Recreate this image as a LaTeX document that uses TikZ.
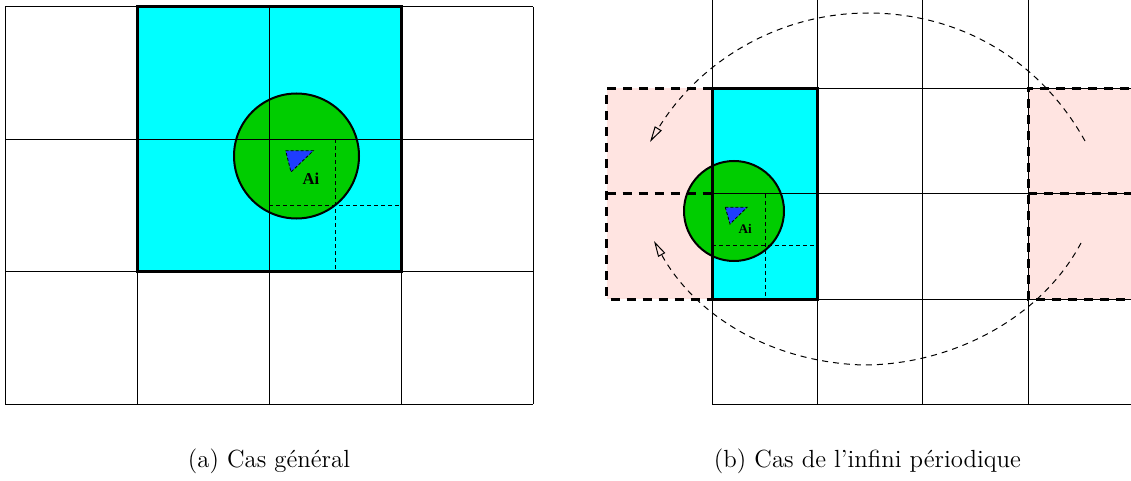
\documentclass[tikz,border=0pt]{standalone}
\usepackage{fontspec}
\newfontfamily\timesfont{Liberation Serif}
\usetikzlibrary{arrows.meta}
\definecolor{cellcyan}{RGB}{0,255,255}
\definecolor{ballgreen}{RGB}{0,205,0}
\definecolor{triblue}{RGB}{30,60,255}
\definecolor{ghostpink}{RGB}{255,228,225}
\tikzset{
  gridline/.style={line width=0.5pt, black},
  boldbox/.style={line width=1.5pt, black},
  ghostbox/.style={line width=1.5pt, black, dash pattern=on 4.5pt off 3.5pt},
  ball/.style={circle, draw=black, line width=1pt, fill=ballgreen, inner sep=0pt},
  halfdash/.style={line width=0.5pt, black, dash pattern=on 2pt off 1.5pt},
  tri/.style={fill=triblue, draw=black, line width=0.4pt, dash pattern=on 1.5pt off 1pt},
  wrap/.style={line width=0.5pt, black, dash pattern=on 3pt off 2.5pt,
     -{Triangle[open, length=8pt, width=4pt]}},
  bigAi/.style={font=\timesfont\bfseries\fontsize{8.3}{10}\selectfont, inner sep=0pt},
  smallAi/.style={font=\timesfont\bfseries\fontsize{6.6}{8}\selectfont, inner sep=0pt},
  caption/.style={font=\fontsize{12.4}{15}\selectfont, inner sep=0pt}
}
\begin{document}
\begin{tikzpicture}[x=0.5pt, y=-0.5pt]
\useasboundingbox (0,0) rectangle (1131,481);
\clip (0,0) rectangle (1131,481);

% ---------------- (a) ----------------
\fill[cellcyan] (137,7) rectangle (401,271.7);
\node[ball, minimum size=62.5pt] (ballA) at (296.5,156) {};
\foreach \x in {5,137,269,401,533} \draw[gridline] (\x,7) -- (\x,404);
\foreach \y in {7,139.3,271.7,404} \draw[gridline] (5,\y) -- (533,\y);
\draw[boldbox] (137,7) rectangle (401,271.7);
\draw[halfdash] (335,139.3) -- (335,271.7);
\draw[halfdash] (269,205.5) -- (401,205.5);
\draw[tri] (285.7,150.7) -- (313.3,150.7) -- (291,172) -- cycle;
\node[bigAi] (aiA) at (311,179) {Ai};
\node[caption] (capA) at (269,461) {(a) Cas général};

% ---------------- (b) ----------------
\fill[ghostpink] (606.7,88.3) rectangle (712,299);
\fill[ghostpink] (1028,88.3) rectangle (1140,299);
\fill[cellcyan] (712,88.3) rectangle (817.3,299);
\node[ball, minimum size=50pt] (ballB) at (734,211) {};
\foreach \x in {712,817.3,922.7,1028} \draw[gridline] (\x,-10) -- (\x,404.3);
\foreach \y in {88.3,193.7,299,404.3} \draw[gridline] (712,\y) -- (1140,\y);
\draw[boldbox] (712,88.3) rectangle (817.3,299);
\draw[ghostbox] (712,88.3) -- (606.7,88.3) -- (606.7,299) -- (712,299);
\draw[ghostbox] (606.7,193.7) -- (712,193.7);
\draw[ghostbox] (1145,88.3) -- (1028,88.3) -- (1028,299) -- (1145,299);
\draw[ghostbox] (1028,193.7) -- (1145,193.7);
\draw[halfdash] (765,193.7) -- (765,299);
\draw[halfdash] (712,246) -- (817.3,246);
\draw[tri] (725.3,207.3) -- (747,207.3) -- (730,224) -- cycle;
\node[smallAi] (aiB) at (745.3,228.7) {Ai};
\node[caption] (capB) at (867.5,461) {(b) Cas de l'infini périodique};

\coordinate (topR) at (1085,141);
\coordinate (topM) at (868,13);
\coordinate (topL) at (650,142);
\coordinate (botR) at (1081,243);
\coordinate (botM) at (863,365);
\coordinate (botL) at (654,241);
\draw[wrap] (topR) .. controls (1040,60) and (960,13) .. (topM)
   .. controls (780,13) and (700,60) .. (topL);
\draw[wrap] (botR) .. controls (1040,320) and (950,365) .. (botM)
   .. controls (770,362) and (695,315) .. (botL);
\end{tikzpicture}
\end{document}
